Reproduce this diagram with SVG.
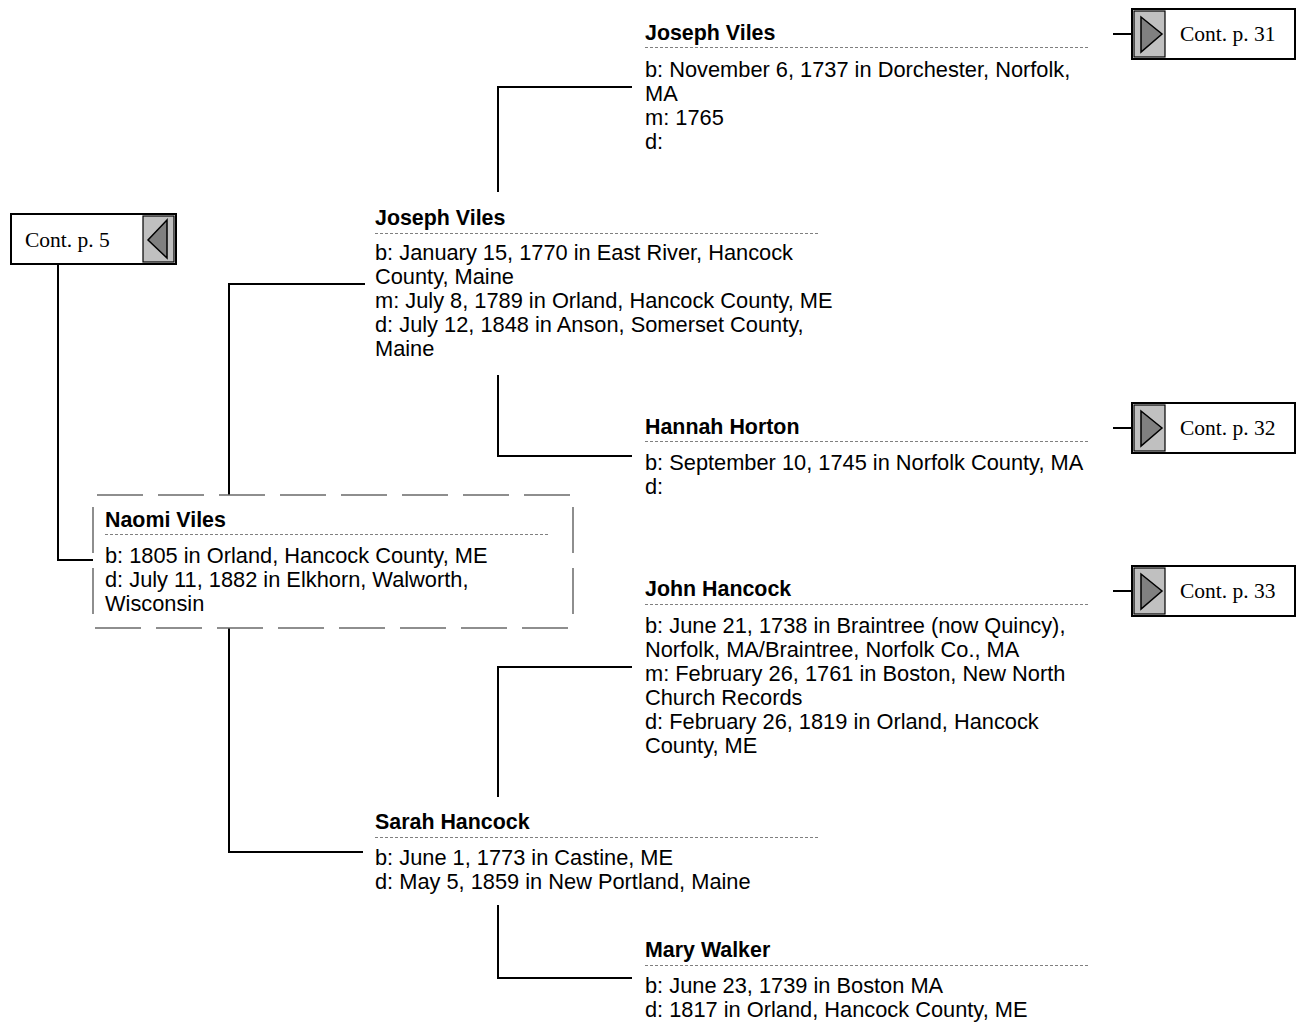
<svg xmlns="http://www.w3.org/2000/svg" width="1299" height="1026" viewBox="0 0 1299 1026">
<style>
.t{font-family:"Liberation Sans",Arial,sans-serif;font-size:21.8px;fill:#000}
.n{font-weight:bold;font-size:21.4px}
.sep{stroke:#808080;stroke-width:1;stroke-dasharray:3 2;fill:none}
.c{stroke:#000;stroke-width:2;fill:none}
.cont{font-family:"Liberation Serif","Times New Roman",serif;font-size:21.5px;fill:#000}
.ob{fill:#fff;stroke:#000;stroke-width:2}
.gs{fill:#c0c0c0;stroke:#000;stroke-width:1.2}
.tri{fill:#808080;stroke:#000;stroke-width:1.5}
.db{stroke:#6a6a6a;stroke-width:1.5;stroke-dasharray:46 15;fill:none}
</style>
<rect width="1299" height="1026" fill="#fff"/>
<g id="connectors">
<polyline class="c" points="229,495 229,284 365,284"/>
<polyline class="c" points="498,192 498,87 632,87"/>
<polyline class="c" points="498,375 498,456 632,456"/>
<polyline class="c" points="229,628 229,852 363,852"/>
<polyline class="c" points="498,797 498,667 632,667"/>
<polyline class="c" points="498,905 498,978 632,978"/>
<polyline class="c" points="58,264 58,560 93,560"/>
<line class="c" x1="1113" y1="34" x2="1132" y2="34"/>
<line class="c" x1="1113" y1="428" x2="1132" y2="428"/>
<line class="c" x1="1113" y1="591" x2="1132" y2="591"/>
</g>
<g id="cont5">
<rect class="ob" x="11" y="214" width="165" height="50"/>
<rect class="gs" x="143" y="216" width="31" height="46"/>
<polygon class="tri" points="167,220 148,240 167,258"/>
<text class="cont" x="25" y="247">Cont. p. 5</text>
</g>
<g id="cont31">
<rect class="ob" x="1132" y="9" width="163" height="50"/>
<rect class="gs" x="1134" y="11" width="31" height="46"/>
<polygon class="tri" points="1141,17 1162,34 1141,52"/>
<text class="cont" x="1180" y="41">Cont. p. 31</text>
</g>
<g id="cont32">
<rect class="ob" x="1132" y="403" width="163" height="50"/>
<rect class="gs" x="1134" y="405" width="31" height="46"/>
<polygon class="tri" points="1141,411 1162,428 1141,446"/>
<text class="cont" x="1180" y="435">Cont. p. 32</text>
</g>
<g id="cont33">
<rect class="ob" x="1132" y="566" width="163" height="50"/>
<rect class="gs" x="1134" y="568" width="31" height="46"/>
<polygon class="tri" points="1141,574 1162,591 1141,609"/>
<text class="cont" x="1180" y="598">Cont. p. 33</text>
</g>
<g id="naomi">
<line class="db" x1="97" y1="495" x2="573" y2="495"/>
<line class="db" x1="95" y1="628" x2="573" y2="628"/>
<line class="db" x1="93" y1="507" x2="93" y2="614"/>
<line class="db" x1="573" y1="507" x2="573" y2="614"/>
<text class="t n" x="105" y="527">Naomi Viles</text>
<line class="sep" x1="105" y1="534.5" x2="548" y2="534.5"/>
<text class="t" x="105" y="563">b: 1805 in Orland, Hancock County, ME</text>
<text class="t" x="105" y="587">d: July 11, 1882 in Elkhorn, Walworth,</text>
<text class="t" x="105" y="611">Wisconsin</text>
</g>
<g id="joseph2">
<text class="t n" x="375" y="225">Joseph Viles</text>
<line class="sep" x1="375" y1="233.5" x2="818" y2="233.5"/>
<text class="t" x="375" y="260">b: January 15, 1770 in East River, Hancock</text>
<text class="t" x="375" y="284">County, Maine</text>
<text class="t" x="375" y="308">m: July 8, 1789 in Orland, Hancock County, ME</text>
<text class="t" x="375" y="332">d: July 12, 1848 in Anson, Somerset County,</text>
<text class="t" x="375" y="356">Maine</text>
</g>
<g id="sarah">
<text class="t n" x="375" y="829">Sarah Hancock</text>
<line class="sep" x1="375" y1="837.5" x2="818" y2="837.5"/>
<text class="t" x="375" y="865">b: June 1, 1773 in Castine, ME</text>
<text class="t" x="375" y="889">d: May 5, 1859 in New Portland, Maine</text>
</g>
<g id="joseph1">
<text class="t n" x="645" y="40">Joseph Viles</text>
<line class="sep" x1="645" y1="47.5" x2="1088" y2="47.5"/>
<text class="t" x="645" y="77">b: November 6, 1737 in Dorchester, Norfolk,</text>
<text class="t" x="645" y="101">MA</text>
<text class="t" x="645" y="125">m: 1765</text>
<text class="t" x="645" y="149">d:</text>
</g>
<g id="hannah">
<text class="t n" x="645" y="434">Hannah Horton</text>
<line class="sep" x1="645" y1="441.5" x2="1088" y2="441.5"/>
<text class="t" x="645" y="470">b: September 10, 1745 in Norfolk County, MA</text>
<text class="t" x="645" y="494">d:</text>
</g>
<g id="john">
<text class="t n" x="645" y="596">John Hancock</text>
<line class="sep" x1="645" y1="604.5" x2="1088" y2="604.5"/>
<text class="t" x="645" y="633">b: June 21, 1738 in Braintree (now Quincy),</text>
<text class="t" x="645" y="657">Norfolk, MA/Braintree, Norfolk Co., MA</text>
<text class="t" x="645" y="681">m: February 26, 1761 in Boston, New North</text>
<text class="t" x="645" y="705">Church Records</text>
<text class="t" x="645" y="729">d: February 26, 1819 in Orland, Hancock</text>
<text class="t" x="645" y="753">County, ME</text>
</g>
<g id="mary">
<text class="t n" x="645" y="957">Mary Walker</text>
<line class="sep" x1="645" y1="965.5" x2="1088" y2="965.5"/>
<text class="t" x="645" y="993">b: June 23, 1739 in Boston MA</text>
<text class="t" x="645" y="1017">d: 1817 in Orland, Hancock County, ME</text>
</g>
</svg>
